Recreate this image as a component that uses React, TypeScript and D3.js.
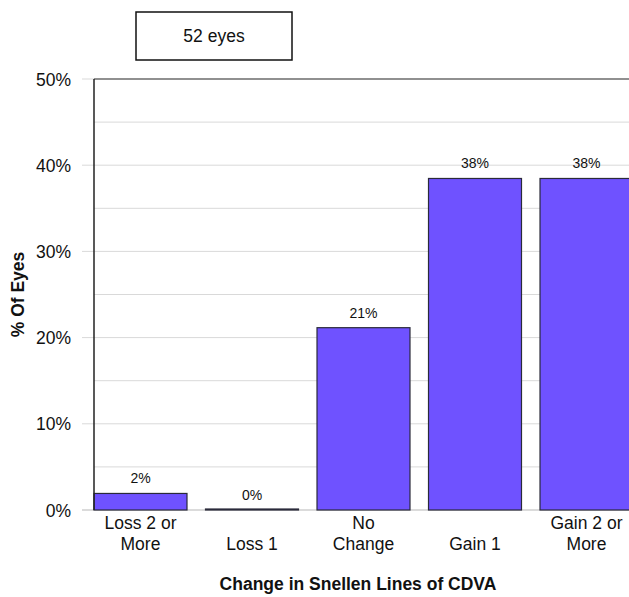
import { useEffect, useRef } from 'react';
import * as d3 from 'd3';

const categories = ['Loss 2 or More', 'Loss 1', 'No Change', 'Gain 1', 'Gain 2 or More'];
const categoryLines = [['Loss 2 or', 'More'], ['Loss 1'], ['No', 'Change'], ['Gain 1'], ['Gain 2 or', 'More']];
const percentEyes = [1.92, 0, 21.15, 38.46, 38.46];
const yTicks = [0, 10, 20, 30, 40, 50];
const yGrid = [5, 15, 25, 35, 45];

const FONT = '"Liberation Sans", Arial, sans-serif';
const TEXT_SIZE = 17.5;

export default function App() {
  const svgRef = useRef<SVGSVGElement | null>(null);

  useEffect(() => {
    if (!svgRef.current) return;
    const svg = d3.select(svgRef.current);
    svg.selectAll('*').remove();

    const left = 94;
    const right = 633;
    const top = 79;
    const bottom = 510;

    const x = d3.scaleBand<string>().domain(categories).range([left, right]).paddingInner(0.166).paddingOuter(0);
    const y = d3.scaleLinear().domain([0, 50]).range([bottom, top]);

    // minor gridlines
    svg
      .append('g')
      .selectAll('line')
      .data(yGrid)
      .join('line')
      .attr('x1', left)
      .attr('x2', right)
      .attr('y1', (d) => y(d))
      .attr('y2', (d) => y(d))
      .attr('stroke', '#d9d9d9')
      .attr('stroke-width', 1);

    // major gridlines with ticks extending left
    svg
      .append('g')
      .selectAll('line')
      .data(yTicks.filter((d) => d > 0 && d < 50))
      .join('line')
      .attr('x1', left - 12)
      .attr('x2', right)
      .attr('y1', (d) => y(d))
      .attr('y2', (d) => y(d))
      .attr('stroke', '#d9d9d9')
      .attr('stroke-width', 1);

    // bottom line
    svg
      .append('line')
      .attr('x1', left - 12)
      .attr('x2', right)
      .attr('y1', y(0))
      .attr('y2', y(0))
      .attr('stroke', '#b8b8b8')
      .attr('stroke-width', 1.2);

    // top tick + border
    svg
      .append('line')
      .attr('x1', left - 12)
      .attr('x2', left)
      .attr('y1', y(50))
      .attr('y2', y(50))
      .attr('stroke', '#d9d9d9');
    svg
      .append('line')
      .attr('x1', left)
      .attr('x2', right)
      .attr('y1', y(50))
      .attr('y2', y(50))
      .attr('stroke', '#222')
      .attr('stroke-width', 1.2);

    // y tick labels
    svg
      .append('g')
      .selectAll('text')
      .data(yTicks)
      .join('text')
      .attr('x', 71)
      .attr('y', (d) => y(d) + 6.5)
      .attr('text-anchor', 'end')
      .attr('font-family', FONT)
      .attr('font-size', TEXT_SIZE)
      .attr('fill', '#111')
      .text((d) => `${d}%`);

    // bars
    const bars = categories.map((c, i) => ({ c, v: percentEyes[i] }));
    svg
      .append('g')
      .selectAll('rect')
      .data(bars)
      .join('rect')
      .attr('x', (d) => x(d.c)!)
      .attr('y', (d) => Math.min(y(d.v), y(0) - 1))
      .attr('width', x.bandwidth())
      .attr('height', (d) => Math.max(y(0) - y(d.v), 1))
      .attr('fill', '#6f52ff')
      .attr('stroke', '#2a2a3a')
      .attr('stroke-width', 1.2);

    // value labels
    svg
      .append('g')
      .selectAll('text')
      .data(bars)
      .join('text')
      .attr('x', (d) => x(d.c)! + x.bandwidth() / 2)
      .attr('y', (d) => y(d.v) - 10)
      .attr('text-anchor', 'middle')
      .attr('font-family', FONT)
      .attr('font-size', 14)
      .attr('fill', '#111')
      .text((d) => `${Math.round(d.v)}%`);

    // left axis line
    svg
      .append('line')
      .attr('x1', left)
      .attr('x2', left)
      .attr('y1', top)
      .attr('y2', bottom)
      .attr('stroke', '#222')
      .attr('stroke-width', 1.5);

    // category labels
    const catG = svg.append('g');
    categories.forEach((c, i) => {
      const lines = categoryLines[i];
      const cx = x(c)! + x.bandwidth() / 2;
      lines.forEach((ln, j) => {
        const row = lines.length === 1 ? 1 : j;
        catG
          .append('text')
          .attr('x', cx)
          .attr('y', 529 + row * 20.5)
          .attr('text-anchor', 'middle')
          .attr('font-family', FONT)
          .attr('font-size', TEXT_SIZE)
          .attr('fill', '#111')
          .text(ln);
      });
    });

    // axis titles
    svg
      .append('text')
      .attr('x', 358)
      .attr('y', 590)
      .attr('text-anchor', 'middle')
      .attr('font-family', FONT)
      .attr('font-size', TEXT_SIZE)
      .attr('font-weight', 'bold')
      .attr('fill', '#111')
      .text('Change in Snellen Lines of CDVA');

    svg
      .append('text')
      .attr('transform', `translate(23.5,${(top + bottom) / 2}) rotate(-90)`)
      .attr('text-anchor', 'middle')
      .attr('font-family', FONT)
      .attr('font-size', TEXT_SIZE)
      .attr('font-weight', 'bold')
      .attr('fill', '#111')
      .text('% Of Eyes');

    // annotation box
    svg
      .append('rect')
      .attr('x', 136)
      .attr('y', 12)
      .attr('width', 156)
      .attr('height', 48)
      .attr('fill', '#fff')
      .attr('stroke', '#111')
      .attr('stroke-width', 1.5);
    svg
      .append('text')
      .attr('x', 214)
      .attr('y', 41.5)
      .attr('text-anchor', 'middle')
      .attr('font-family', FONT)
      .attr('font-size', TEXT_SIZE)
      .attr('fill', '#111')
      .text('52 eyes');
  }, []);

  return (
    <svg
      ref={svgRef}
      width={629}
      height={597}
      style={{ position: 'absolute', left: 0, top: 0, background: '#fff' }}
    ></svg>
  );
}
